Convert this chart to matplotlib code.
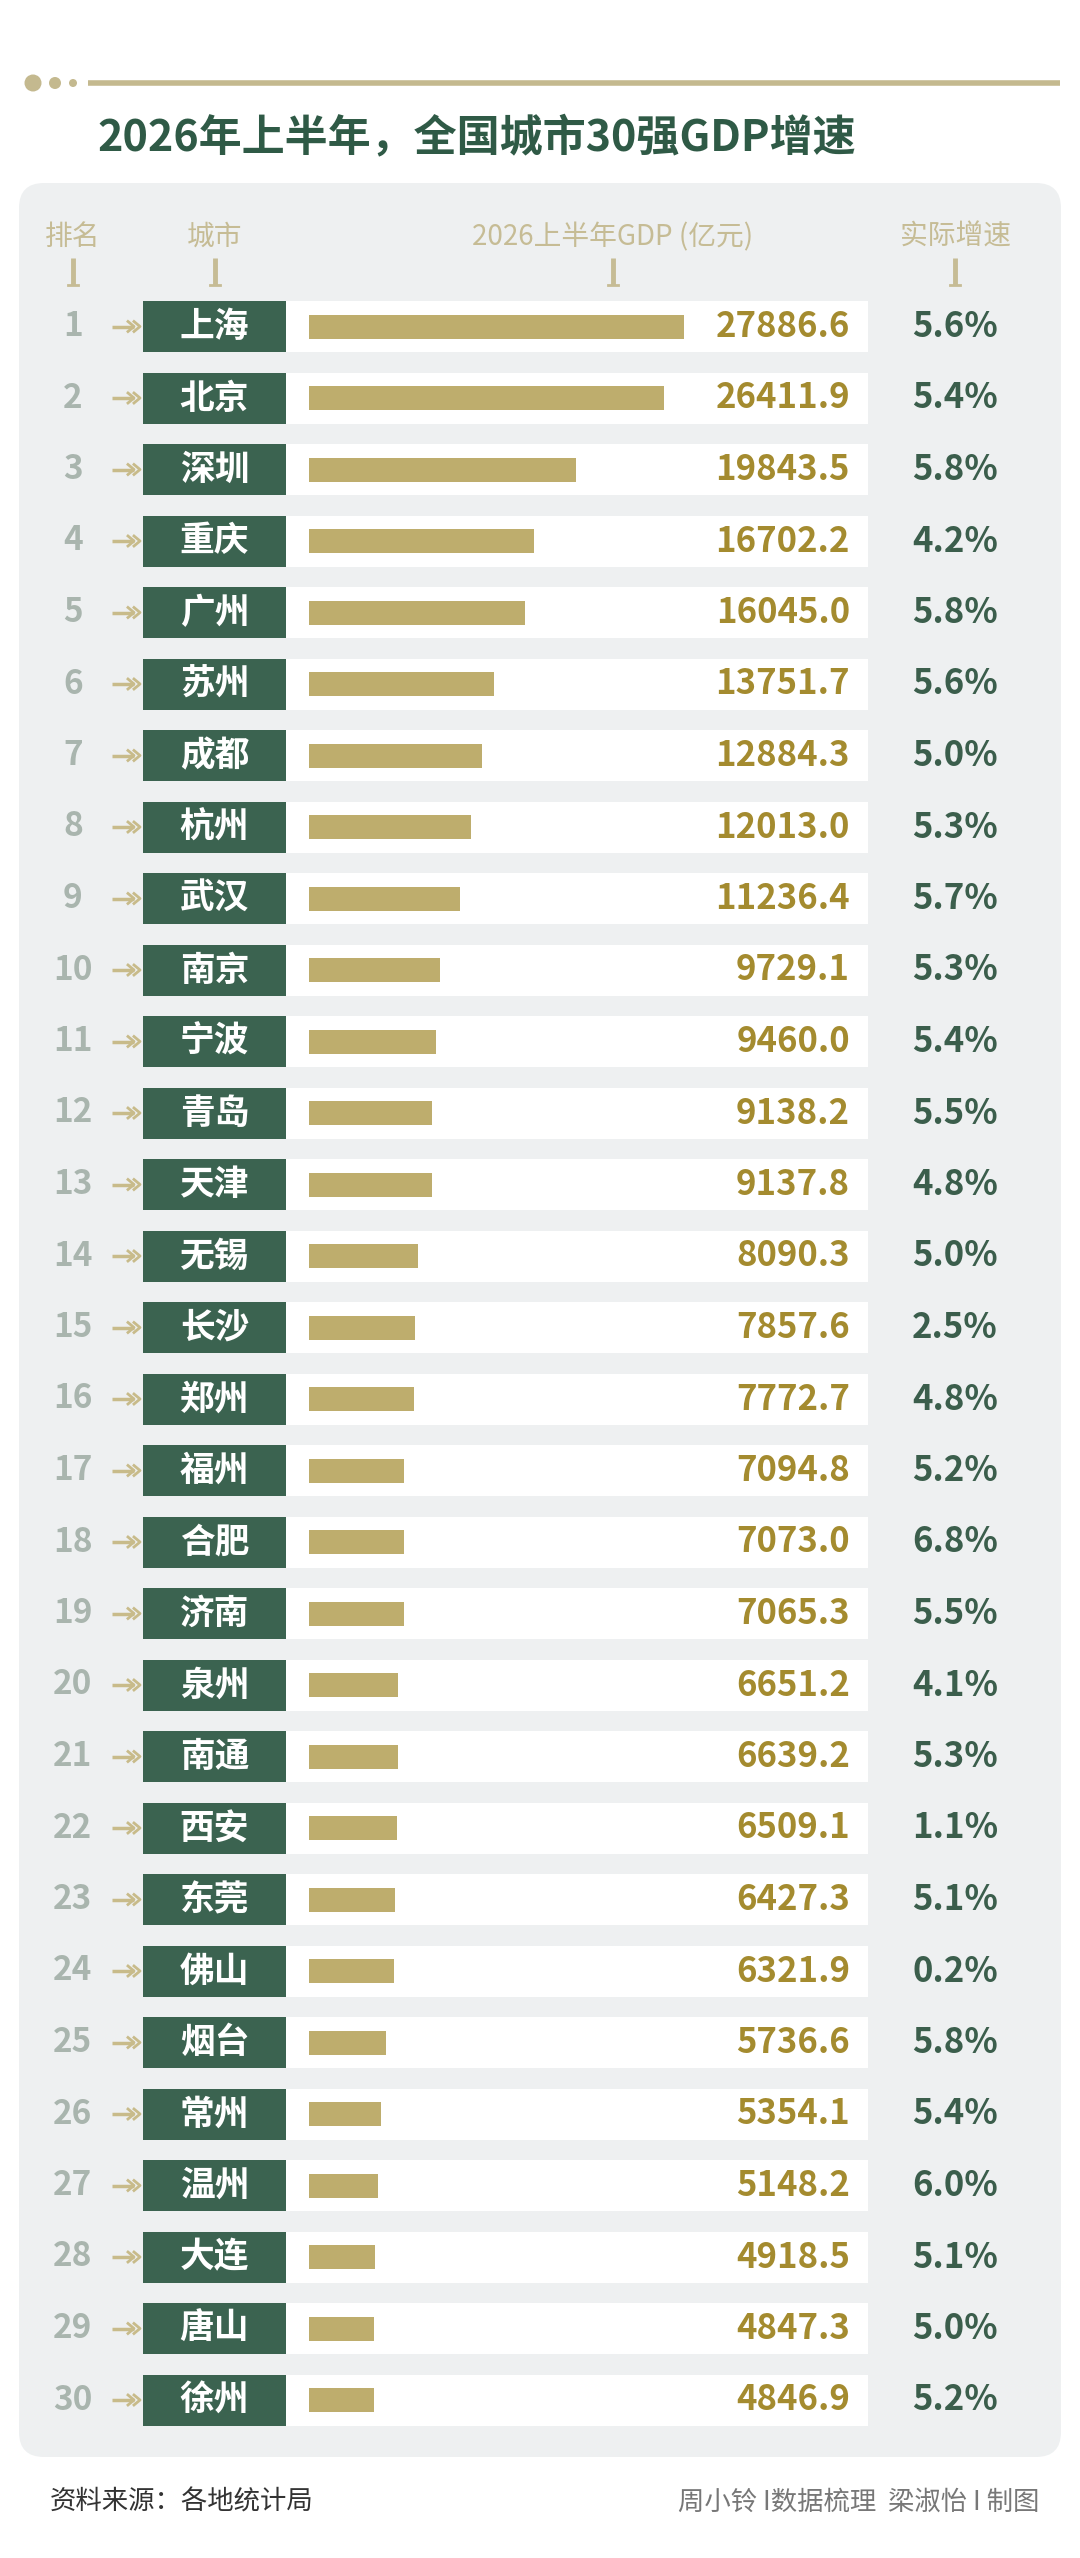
import matplotlib.pyplot as plt
from matplotlib.patches import FancyBboxPatch, Rectangle, Circle
from matplotlib.transforms import blended_transform_factory

plt.rcParams['font.family'] = ['Noto Sans CJK SC', 'DejaVu Sans']

# data
cities = ['上海', '北京', '深圳', '重庆', '广州', '苏州', '成都', '杭州', '武汉', '南京',
          '宁波', '青岛', '天津', '无锡', '长沙', '郑州', '福州', '合肥', '济南', '泉州',
          '南通', '西安', '东莞', '佛山', '烟台', '常州', '温州', '大连', '唐山', '徐州']
gdp = [27886.6, 26411.9, 19843.5, 16702.2, 16045.0, 13751.7, 12884.3, 12013.0, 11236.4, 9729.1,
       9460.0, 9138.2, 9137.8, 8090.3, 7857.6, 7772.7, 7094.8, 7073.0, 7065.3, 6651.2,
       6639.2, 6509.1, 6427.3, 6321.9, 5736.6, 5354.1, 5148.2, 4918.5, 4847.3, 4846.9]
growth = [5.6, 5.4, 5.8, 4.2, 5.8, 5.6, 5.0, 5.3, 5.7, 5.3,
          5.4, 5.5, 4.8, 5.0, 2.5, 4.8, 5.2, 6.8, 5.5, 4.1,
          5.3, 1.1, 5.1, 0.2, 5.8, 5.4, 6.0, 5.1, 5.0, 5.2]
headers = ['排名', '城市', '2026上半年GDP (亿元)', '实际增速']

title = '2026年上半年，全国城市30强GDP增速'
source = '资料来源：各地统计局'
credit = '周小铃 I数据梳理  梁淑怡 I 制图'

green = '#3b6350'
gold = '#bead6d'
gold_text = '#a48b2f'
khaki = '#c6bc95'
W, H = 1080, 2558

fig = plt.figure(figsize=(W / 100, H / 100), dpi=100)
fig.patch.set_facecolor('white')

# background axes in pixel units
bg = fig.add_axes([0, 0, 1, 1])
bg.set_xlim(0, W)
bg.set_ylim(H, 0)
bg.axis('off')

# top decoration
for cx, r in [(33, 8.5), (55, 6), (73, 4)]:
    bg.add_patch(Circle((cx, 83), r, color='#c4b98f', lw=0))
bg.plot([88, 1060], [83, 83], color='#c4b98f', lw=4, solid_capstyle='butt')

bg.text(97, 137, title, fontsize=31, fontweight='bold', color='#2f5a46',
        ha='left', va='center')

# grey panel
bg.add_patch(FancyBboxPatch((19 + 25, 183 + 25), 1042 - 50, 2274 - 50,
                            boxstyle='round,pad=25', fc='#eef0f1', ec='none'))

# column headers
col_x = [73, 215, 613, 955]
for x, h in zip(col_x, headers):
    bg.text(x, 237, h, fontsize=20, color=khaki, ha='center', va='center')
    bg.plot([x, x], [258, 285], color=khaki, lw=3.5, solid_capstyle='butt')
    bg.plot([x - 5, x + 5], [285, 285], color=khaki, lw=2)

# rows
n = len(cities)
pitch = 71.5
top = 326.5 - pitch / 2
ax = fig.add_axes([309 / W, 1 - (top + n * pitch) / H, 403.4 / W, n * pitch / H])
ax.set_xlim(0, 30000)
ax.set_ylim(n - 0.5, -0.5)
ax.axis('off')

tr = blended_transform_factory(bg.transData, ax.transData)
bh = 51 / pitch
ys = list(range(n))

for i in ys:
    ax.add_patch(Rectangle((286, i - bh / 2), 582, bh, transform=tr, fc='white',
                           ec='none', clip_on=False, zorder=0))
    ax.add_patch(Rectangle((143, i - bh / 2), 143, bh, transform=tr, fc=green,
                           ec='none', clip_on=False, zorder=1))
    # arrow
    ah = 5 / pitch
    ax.plot([112, 134], [i, i], transform=tr, color='#c8bb8a', lw=2.5,
            clip_on=False, solid_capstyle='butt')
    for x0 in (128, 134):
        ax.plot([x0, x0 + 6, x0], [i - ah, i, i + ah], transform=tr,
                color='#c8bb8a', lw=2, clip_on=False)

ax.barh(ys, gdp, height=24 / pitch, color=gold, zorder=2)

for i in ys:
    ax.text(73, i, str(i + 1), transform=tr, fontsize=24, color='#a9b5ae',
            ha='center', va='center', fontweight='bold')
    ax.text(214.5, i, cities[i], transform=tr, fontsize=25, color='white',
            ha='center', va='center', fontweight='bold')
    ax.text(850, i, f'{gdp[i]:.1f}', transform=tr, fontsize=25, color=gold_text,
            ha='right', va='center', fontweight='bold')
    ax.text(955, i, f'{growth[i]:.1f}%', transform=tr, fontsize=25, color='#3b5e4c',
            ha='center', va='center', fontweight='bold')

# footer
bg.text(50, 2502, source, fontsize=19, color='#333333', ha='left', va='center')
bg.text(1039, 2502, credit, fontsize=19, color='#777777', ha='right', va='center')

fig.savefig('out.png', dpi=100, facecolor='white')
